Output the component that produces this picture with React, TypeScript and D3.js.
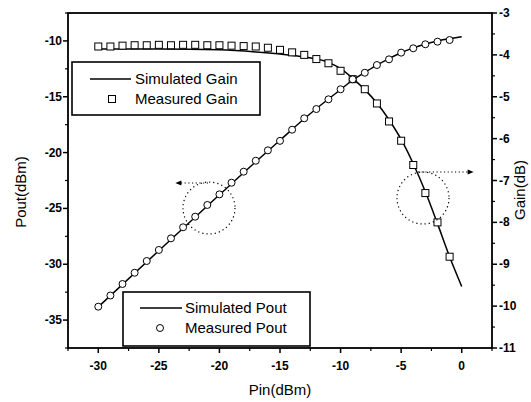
import React from "react";
import * as d3 from "d3";

const pinMeasured = [-30,-29,-28,-27,-26,-25,-24,-23,-22,-21,-20,-19,-18,-17,-16,-15,-14,-13,-12,-11,-10,-9,-8,-7,-6,-5,-4,-3,-2,-1];
const poutMeasured = [-33.8,-32.8,-31.77,-30.76,-29.71,-28.72,-27.68,-26.69,-25.74,-24.69,-23.74,-22.7,-21.71,-20.73,-19.8,-18.95,-17.95,-16.93,-16.1,-15.23,-14.33,-13.44,-12.85,-12.16,-11.65,-11.05,-10.66,-10.3,-10.07,-9.92];
const gainMeasured = [-3.8,-3.8,-3.78,-3.77,-3.77,-3.76,-3.77,-3.76,-3.76,-3.77,-3.77,-3.78,-3.79,-3.8,-3.83,-3.88,-3.94,-4.0,-4.1,-4.2,-4.38,-4.58,-4.82,-5.16,-5.59,-6.05,-6.63,-7.3,-8.0,-8.82];

const pinSim = [-30,-25,-20,-17,-15,-13,-11,-10,-9,-8,-7,-6,-5,-4,-3,-2,-1,0];
const poutSim = [-33.82,-28.78,-23.78,-20.82,-18.9,-16.97,-15.2,-14.36,-13.5,-12.82,-12.16,-11.58,-11.06,-10.62,-10.27,-10.0,-9.8,-9.62];
const gainSim = [-3.86,-3.86,-3.88,-3.93,-3.98,-4.05,-4.18,-4.33,-4.56,-4.83,-5.15,-5.55,-6.02,-6.6,-7.27,-8.03,-8.82,-9.53];

const xTicks = [-30,-25,-20,-15,-10,-5,0];
const yLeftTicks = [-35,-30,-25,-20,-15,-10];
const yRightTicks = [-11,-10,-9,-8,-7,-6,-5,-4,-3];

const legendGain = ["Simulated Gain", "Measured Gain"];
const legendPout = ["Simulated Pout", "Measured Pout"];

const FONT = "'Liberation Sans', Arial, sans-serif";

export default function App() {
  const L = 68, R = 492, T = 13, B = 348;
  const x = d3.scaleLinear().domain([-32.5, 2.5]).range([L, R]);
  const yL = d3.scaleLinear().domain([-37.5, -7.5]).range([B, T]);
  const yR = d3.scaleLinear().domain([-11, -3]).range([B, T]);

  const lineP = d3.line<number>().x((_, i) => x(pinSim[i])).y((d) => yL(d)).curve(d3.curveMonotoneX);
  const lineG = d3.line<number>().x((_, i) => x(pinSim[i])).y((d) => yR(d)).curve(d3.curveMonotoneX);

  const xMinor = d3.range(-32.5, 3, 2.5).filter((v) => !xTicks.includes(v));
  const yLMinor = d3.range(-37.5, -7, 2.5).filter((v) => !yLeftTicks.includes(v));
  const yRMinor = d3.range(-11, -2.9, 0.5).filter((v) => !yRightTicks.includes(v));

  const sq = 7;
  return (
    <svg width={531} height={402} style={{ position: "absolute", left: 0, top: 0, background: "#fff" }} fontFamily={FONT}>
      <defs>
        <marker id="ah" viewBox="0 0 10 10" refX="9" refY="5" markerWidth="6" markerHeight="5" orient="auto">
          <path d="M0,1 L10,5 L0,9 z" fill="#000" />
        </marker>
      </defs>
      <rect x={0} y={0} width={531} height={402} fill="#fff" />

      {/* curves */}
      <path d={lineG(gainSim) || ""} fill="none" stroke="#000" strokeWidth={1.5} />
      <path d={lineP(poutSim) || ""} fill="none" stroke="#000" strokeWidth={1.5} />

      {pinMeasured.map((p, i) => (
        <rect key={"s" + i} x={x(p) - sq / 2} y={yR(gainMeasured[i]) - sq / 2} width={sq} height={sq} fill="#fff" stroke="#000" strokeWidth={1} />
      ))}
      {pinMeasured.map((p, i) => (
        <circle key={"c" + i} cx={x(p)} cy={yL(poutMeasured[i])} r={3.5} fill="#fff" stroke="#000" strokeWidth={1} />
      ))}

      {/* dotted circles and arrows */}
      <circle cx={209} cy={208} r={26} fill="none" stroke="#000" strokeWidth={1.2} strokeDasharray="1.2,3" />
      <line x1={208} y1={183} x2={176} y2={183} stroke="#000" strokeWidth={1.2} strokeDasharray="1.2,2.5" markerEnd="url(#ah)" />
      <circle cx={423} cy={198} r={26} fill="none" stroke="#000" strokeWidth={1.2} strokeDasharray="1.2,3" />
      <line x1={418} y1={172} x2={473} y2={172} stroke="#000" strokeWidth={1.2} strokeDasharray="1.2,2.5" markerEnd="url(#ah)" />

      {/* legend gain */}
      <rect x={72} y={62} width={188} height={53} fill="#fff" stroke="#000" strokeWidth={1.6} />
      <line x1={90} y1={79} x2={131} y2={79} stroke="#000" strokeWidth={1.5} />
      <rect x={112 - sq / 2} y={99 - sq / 2} width={sq} height={sq} fill="#fff" stroke="#000" strokeWidth={1} />
      <text x={135} y={84} fontSize={15}>{legendGain[0]}</text>
      <text x={135} y={104} fontSize={15}>{legendGain[1]}</text>

      {/* legend pout */}
      <rect x={123} y={292} width={187} height={54} fill="#fff" stroke="#000" strokeWidth={1.6} />
      <line x1={140} y1={308} x2={182} y2={308} stroke="#000" strokeWidth={1.5} />
      <circle cx={160} cy={328} r={3.5} fill="#fff" stroke="#000" strokeWidth={1} />
      <text x={185} y={313} fontSize={15}>{legendPout[0]}</text>
      <text x={185} y={333} fontSize={15}>{legendPout[1]}</text>

      {/* frame */}
      <rect x={L} y={T} width={R - L} height={B - T} fill="none" stroke="#000" strokeWidth={1.8} />

      {/* bottom axis */}
      {xTicks.map((t) => (
        <g key={"xt" + t}>
          <line x1={x(t)} x2={x(t)} y1={B} y2={B + 5} stroke="#000" strokeWidth={1.5} />
          <text x={x(t)} y={370} fontSize={12} fontWeight="bold" textAnchor="middle">{t}</text>
        </g>
      ))}
      {xMinor.map((t) => (
        <line key={"xm" + t} x1={x(t)} x2={x(t)} y1={B} y2={B + 3} stroke="#000" strokeWidth={1.2} />
      ))}

      {/* left axis */}
      {yLeftTicks.map((t) => (
        <g key={"yl" + t}>
          <line x1={L - 5} x2={L} y1={yL(t)} y2={yL(t)} stroke="#000" strokeWidth={1.5} />
          <text x={L - 6} y={yL(t) + 4} fontSize={12} fontWeight="bold" textAnchor="end">{t}</text>
        </g>
      ))}
      {yLMinor.map((t) => (
        <line key={"ylm" + t} x1={L - 3} x2={L} y1={yL(t)} y2={yL(t)} stroke="#000" strokeWidth={1.2} />
      ))}

      {/* right axis */}
      {yRightTicks.map((t) => (
        <g key={"yr" + t}>
          <line x1={R} x2={R + 5} y1={yR(t)} y2={yR(t)} stroke="#000" strokeWidth={1.5} />
          <text x={R + 7} y={yR(t) + 4} fontSize={12} fontWeight="bold" textAnchor="start">{t}</text>
        </g>
      ))}
      {yRMinor.map((t) => (
        <line key={"yrm" + t} x1={R} x2={R + 3} y1={yR(t)} y2={yR(t)} stroke="#000" strokeWidth={1.2} />
      ))}

      {/* axis titles */}
      <text x={280} y={395} fontSize={15} textAnchor="middle">Pin(dBm)</text>
      <text transform="translate(26,192) rotate(-90)" fontSize={15} textAnchor="middle">Pout(dBm)</text>
      <text transform="translate(525,190) rotate(-90)" fontSize={15} textAnchor="middle">Gain(dB)</text>
    </svg>
  );
}
